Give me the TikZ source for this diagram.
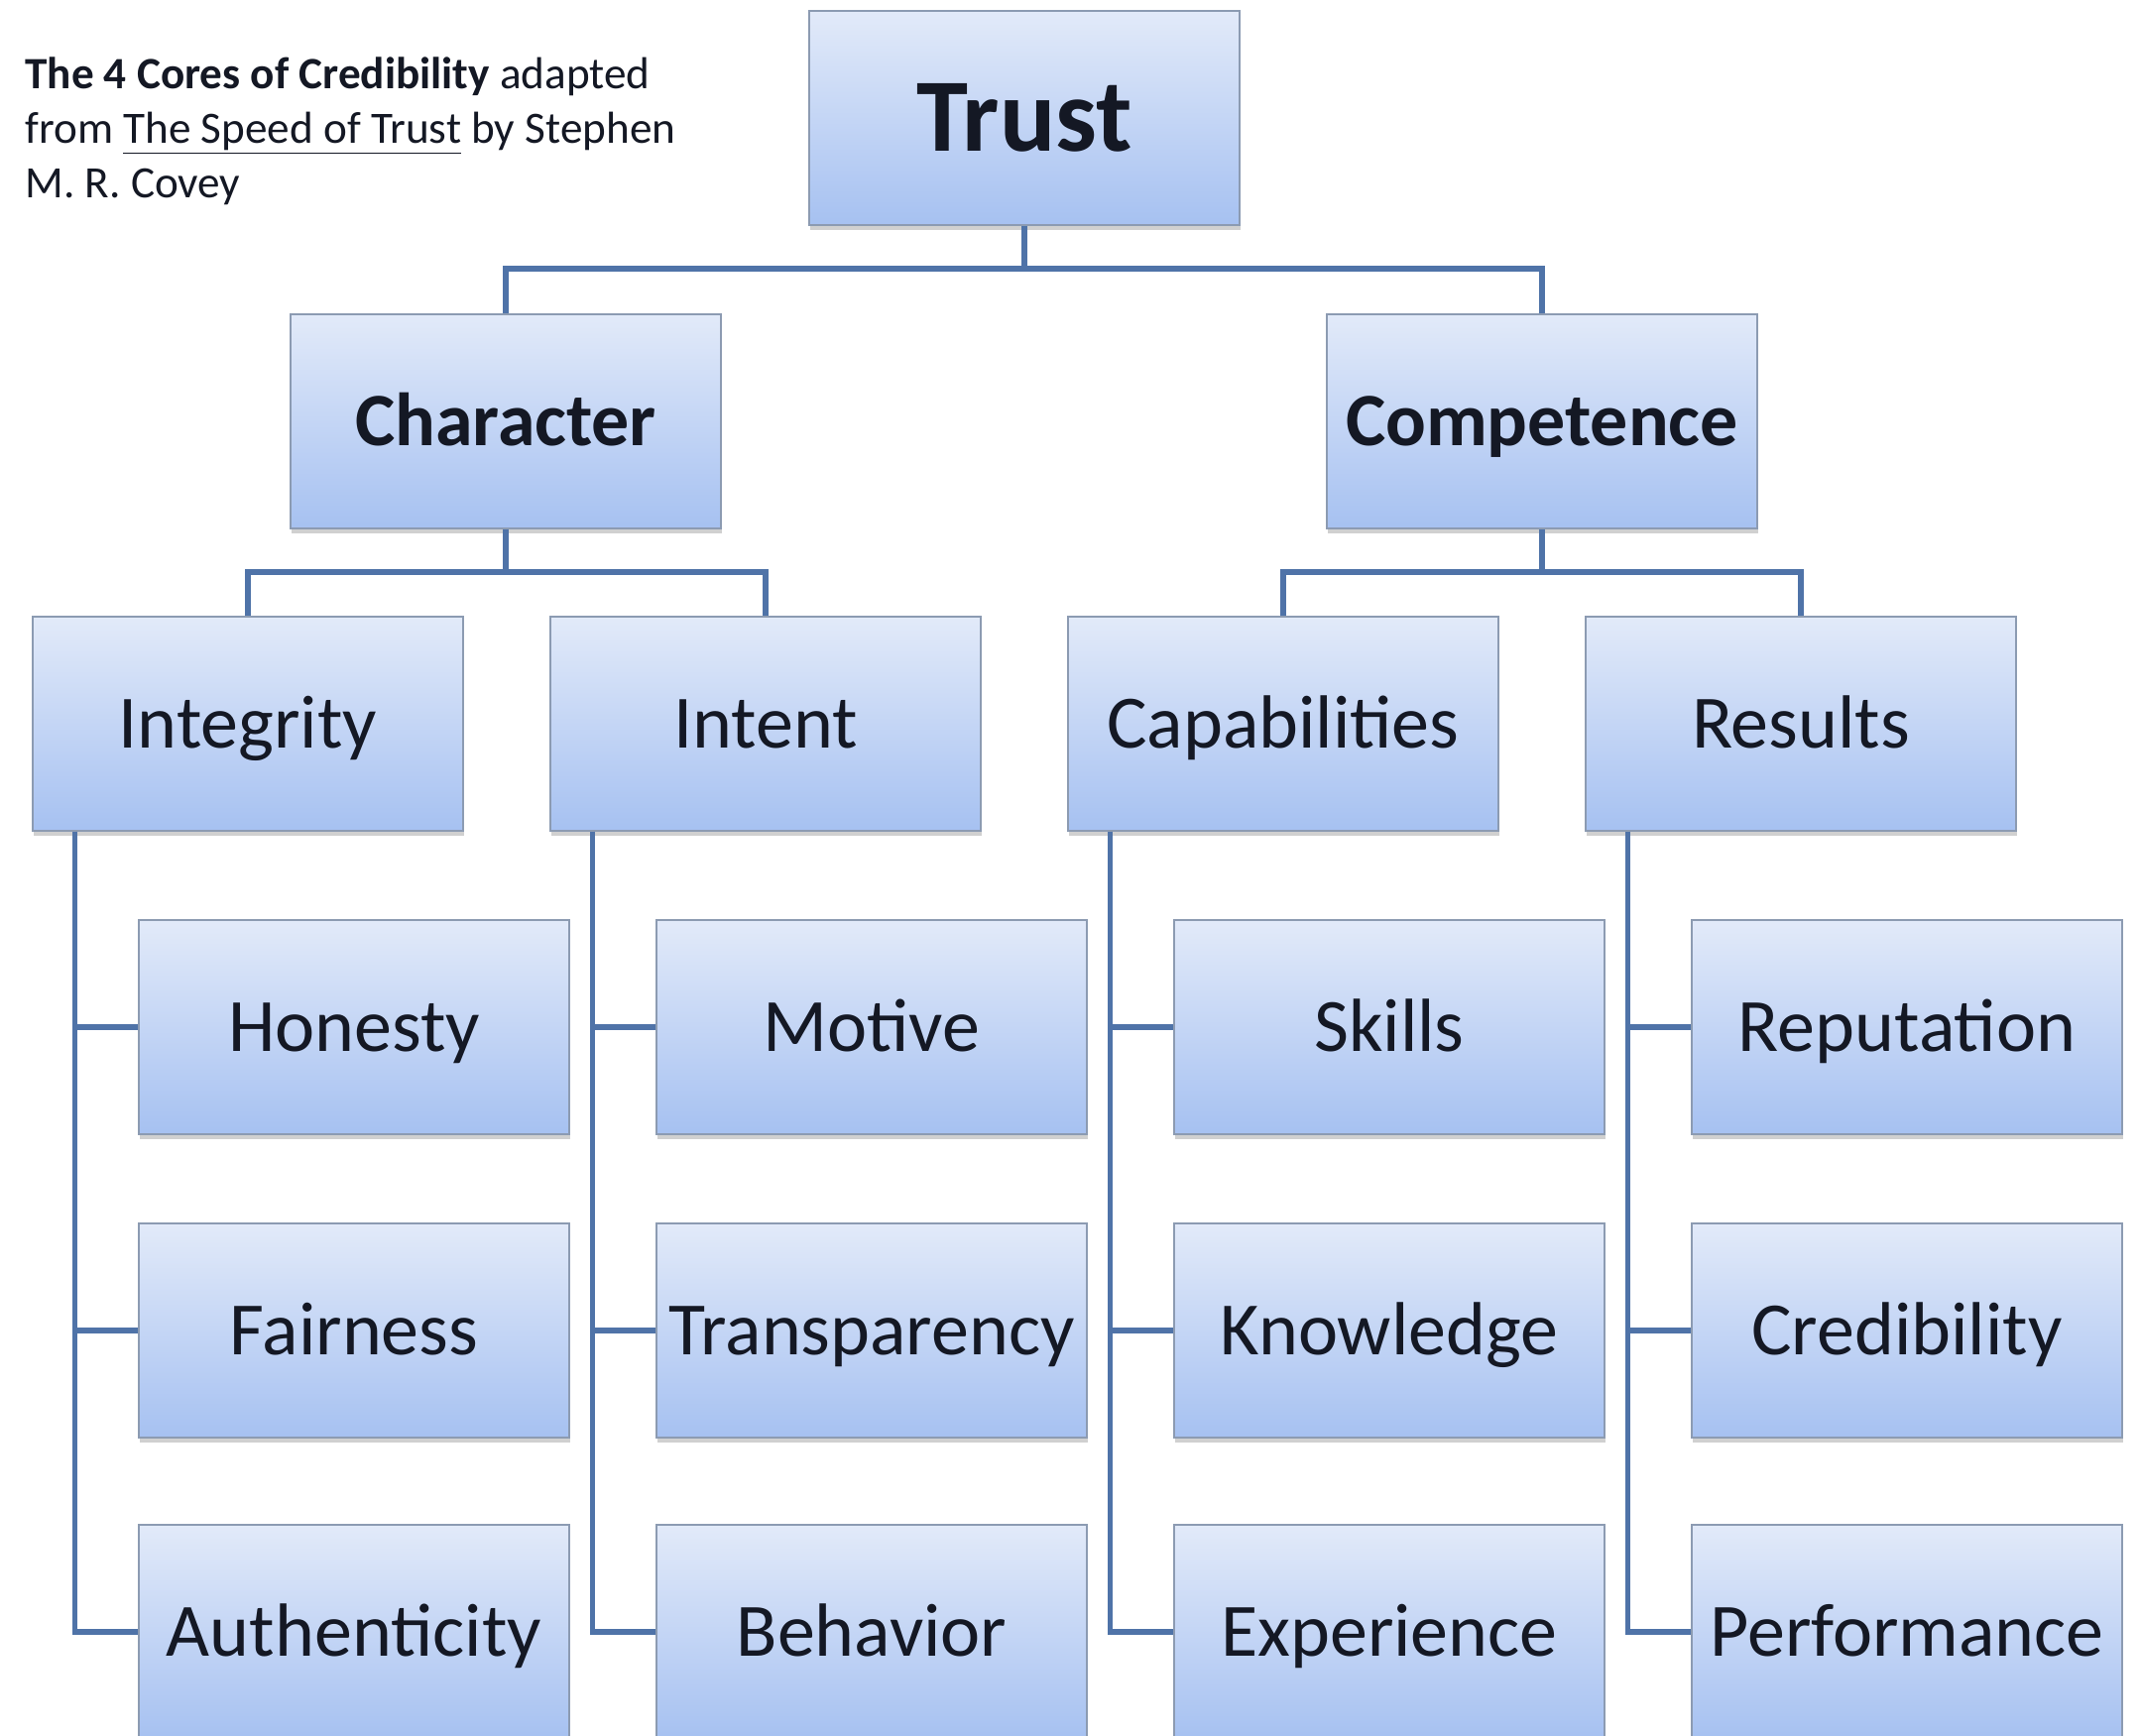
\documentclass[tikz,border=0pt]{standalone}
\usepackage{fontspec}
\setmainfont{Carlito}
\usetikzlibrary{shadows,calc}
\definecolor{boxtop}{RGB}{226,234,249}
\definecolor{boxbot}{RGB}{166,193,241}
\definecolor{boxborder}{RGB}{140,155,178}
\definecolor{conncol}{RGB}{79,115,168}
\definecolor{textcol}{RGB}{20,24,36}
\begin{document}
\begin{tikzpicture}[x={(0.5pt,0)},y={(0,-0.5pt)},
  box/.style={rectangle, minimum width=217pt, minimum height=108pt, inner sep=0pt,
    text height=24.5pt, text depth=0pt,
    draw=boxborder, line width=0.8pt, top color=boxtop, bottom color=boxbot,
    text=textcol, font=\fontsize{38}{45}\selectfont,
    general shadow={fill=black!60, opacity=0.3, shadow yshift=-2.5pt, shadow xshift=0.6pt}},
  topbox/.style={box, text height=33.8pt, font=\fontsize{52.5}{62}\selectfont\bfseries},
  midbox/.style={box, font=\fontsize{38}{45}\selectfont\bfseries},
  conn/.style={draw=conncol, line width=2.6pt},
  title/.style={anchor=north west, inner sep=0pt, align=left, text=textcol,
    font=\fontsize{22.6}{27.5}\selectfont}]
\useasboundingbox (0,0) rectangle (2159,1751);
\fill[white] (0,0) rectangle (2159,1751);

\node[title] (ttl) at (25,57) {\textbf{The 4 Cores of Credibility} adapted\\from \underline{The Speed of Trust} by Stephen\\M. R. Covey};

\coordinate (busA) at (0,271);
\coordinate (busB) at (0,577);

\node[topbox] (trust) at (1033,119) {Trust};
\node[midbox] (char) at (510,425) {Character};
\node[midbox] (comp) at (1555,425) {Competence};
\node[box] (integ) at (250,730) {Integrity};
\node[box] (intent) at (772,730) {Intent};
\node[box] (capab) at (1294,730) {Capabilities};
\node[box] (resul) at (1816,730) {Results};

\node[box] (hon) at (357,1036) {Honesty};
\node[box] (fair) at (357,1342) {Fairness};
\node[box] (auth) at (357,1646) {Authenticity};
\node[box] (motiv) at (879,1036) {Motive};
\node[box] (trans) at (879,1342) {Transparency};
\node[box] (behav) at (879,1646) {Behavior};
\node[box] (skill) at (1401,1036) {Skills};
\node[box] (know) at (1401,1342) {Knowledge};
\node[box] (exper) at (1401,1646) {Experience};
\node[box] (reput) at (1923,1036) {Reputation};
\node[box] (cred) at (1923,1342) {Credibility};
\node[box] (perf) at (1923,1646) {Performance};

\coordinate (t1) at ($(integ.south west)+(43,0)$);
\coordinate (t2) at ($(intent.south west)+(43,0)$);
\coordinate (t3) at ($(capab.south west)+(43,0)$);
\coordinate (t4) at ($(resul.south west)+(43,0)$);

\draw[conn] (trust.south) -- (trust.south |- busA) -| (char.north);
\draw[conn] (trust.south |- busA) -| (comp.north);
\draw[conn] (char.south) -- (char.south |- busB) -| (integ.north);
\draw[conn] (char.south |- busB) -| (intent.north);
\draw[conn] (comp.south) -- (comp.south |- busB) -| (capab.north);
\draw[conn] (comp.south |- busB) -| (resul.north);

\draw[conn] (t1) |- (hon.west);
\draw[conn] (t1) |- (fair.west);
\draw[conn] (t1) |- (auth.west);
\draw[conn] (t2) |- (motiv.west);
\draw[conn] (t2) |- (trans.west);
\draw[conn] (t2) |- (behav.west);
\draw[conn] (t3) |- (skill.west);
\draw[conn] (t3) |- (know.west);
\draw[conn] (t3) |- (exper.west);
\draw[conn] (t4) |- (reput.west);
\draw[conn] (t4) |- (cred.west);
\draw[conn] (t4) |- (perf.west);
\end{tikzpicture}
\end{document}
